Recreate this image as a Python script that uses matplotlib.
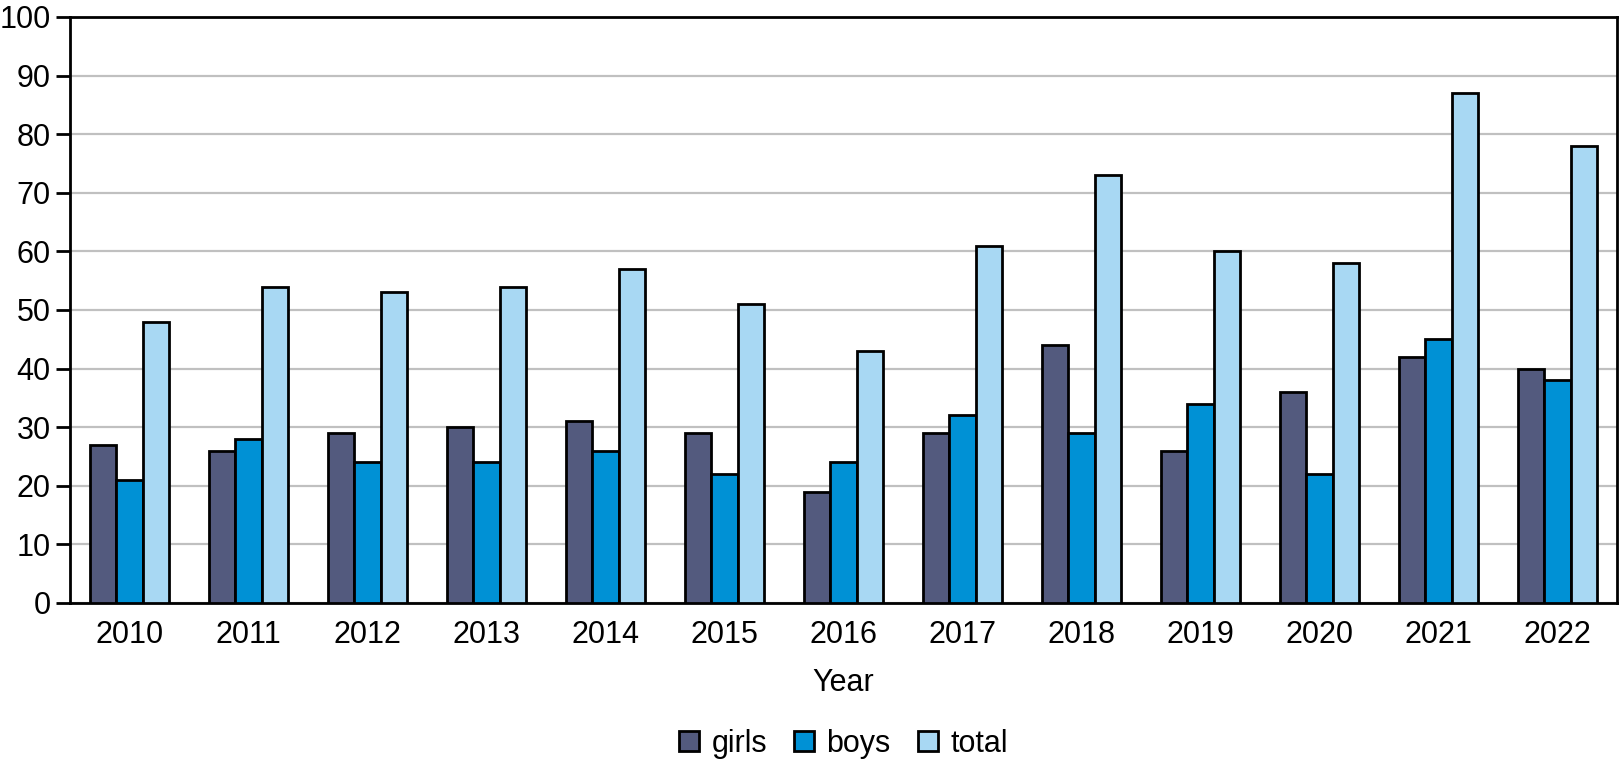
import matplotlib
matplotlib.use("Agg")
import matplotlib.pyplot as plt
import numpy as np

years = ["2010", "2011", "2012", "2013", "2014", "2015", "2016",
         "2017", "2018", "2019", "2020", "2021", "2022"]
girls = [27, 26, 29, 30, 31, 29, 19, 29, 44, 26, 36, 42, 40]
boys = [21, 28, 24, 24, 26, 22, 24, 32, 29, 34, 22, 45, 38]
total = [48, 54, 53, 54, 57, 51, 43, 61, 73, 60, 58, 87, 78]

plt.rcParams["font.family"] = ["Liberation Sans Narrow", "Liberation Sans", "DejaVu Sans"]

fig = plt.figure(figsize=(16.19, 7.65), dpi=100)
ax = fig.add_axes([70 / 1619, 1 - 603 / 765, 1547 / 1619, 586 / 765])

x = np.arange(len(years))
w = 0.22
series = [("girls", girls, "#535a7e"), ("boys", boys, "#0091d5"), ("total", total, "#a8d8f3")]
for i, (name, vals, col) in enumerate(series):
    ax.bar(x + (i - 1) * w, vals, w, color=col, edgecolor="black", linewidth=2.0,
           label=name, zorder=3)

ax.set_xlim(-0.5, len(years) - 0.5)
ax.set_ylim(0, 100)
ax.set_yticks(range(0, 101, 10))
ax.set_xticks(x)
ax.set_xticklabels(years)
ax.tick_params(axis="y", length=10, width=2.0, labelsize=22, pad=4)
ax.tick_params(axis="x", length=0, labelsize=22, pad=12)
ax.grid(axis="y", color="#c0c0c0", linewidth=1.6, zorder=0)
for s in ax.spines.values():
    s.set_linewidth(2.0)
ax.set_xlabel("Year", fontsize=22, labelpad=13)

ax.legend(loc="upper center", bbox_to_anchor=(0.5, -0.168), ncol=3, frameon=False,
          fontsize=22, handlelength=0.65, handleheight=0.65, handletextpad=0.4,
          columnspacing=0.9)

fig.savefig("out.png", dpi=100)
